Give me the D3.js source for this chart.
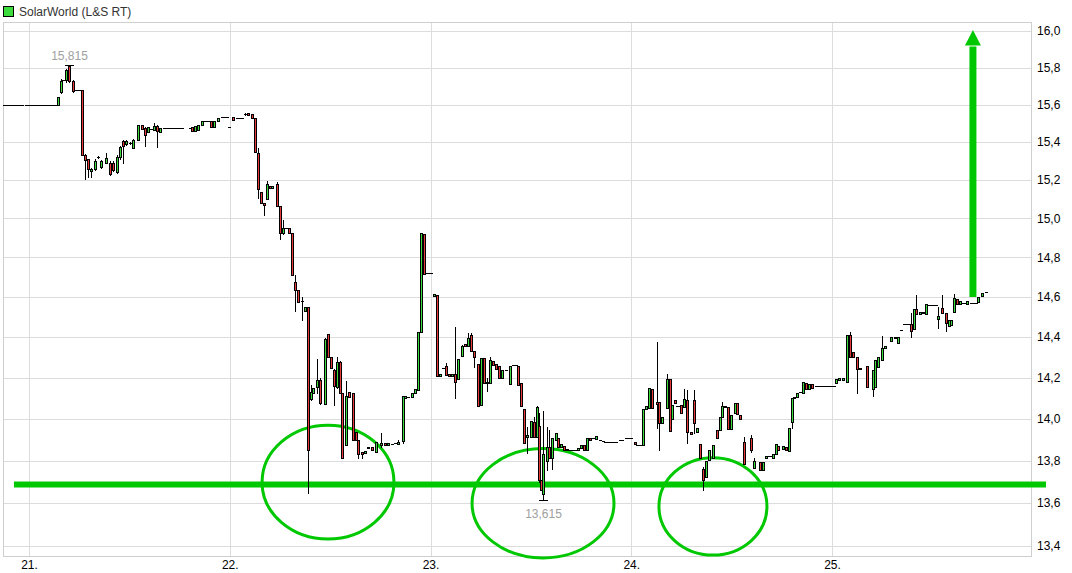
<!DOCTYPE html>
<html><head><meta charset="utf-8">
<script src="https://cdn.jsdelivr.net/npm/d3@7"></script>
<style>body{margin:0;background:#fff}svg{display:block}text{font-family:"Liberation Sans",Arial,sans-serif}</style>
</head><body><svg id="c" width="1072" height="573"></svg>
<script>
// ---------- data ----------
const seriesName = "SolarWorld (L&S RT)";
const priceTicks = [13.4,13.6,13.8,14.0,14.2,14.4,14.6,14.8,15.0,15.2,15.4,15.6,15.8,16.0];
const dayTicks = [21,22,23,24,25];
const dayLabels = ["21.","22.","23.","24.","25."];
// [time (day), open, high, low, close]
const candles = [
[21.144,15.60,15.64,15.60,15.64],[21.159,15.669,15.738,15.66,15.729],[21.184,15.73,15.79,15.72,15.786],
[21.199,15.81,15.815,15.72,15.725],[21.219,15.725,15.73,15.67,15.675],[21.264,15.68,15.68,15.33,15.332],
[21.279,15.33,15.335,15.205,15.305],[21.294,15.31,15.31,15.215,15.255],[21.309,15.245,15.265,15.215,15.26],
[21.329,15.26,15.31,15.25,15.30],[21.344,15.32,15.325,15.315,15.32],[21.359,15.27,15.305,15.265,15.30],
[21.384,15.29,15.34,15.29,15.315],[21.403,15.29,15.30,15.225,15.23],[21.418,15.29,15.30,15.245,15.25],
[21.438,15.24,15.33,15.235,15.32],[21.453,15.32,15.38,15.31,15.375],[21.468,15.405,15.41,15.29,15.38],
[21.483,15.39,15.41,15.385,15.405],[21.503,15.395,15.40,15.39,15.395],[21.518,15.37,15.415,15.37,15.41],
[21.543,15.41,15.49,15.41,15.49],[21.563,15.49,15.49,15.47,15.47],[21.578,15.475,15.48,15.38,15.437],
[21.593,15.455,15.48,15.455,15.48],[21.608,15.47,15.47,15.47,15.47],[21.623,15.465,15.50,15.465,15.485],
[21.638,15.485,15.49,15.375,15.46],[21.653,15.455,15.475,15.455,15.475],[21.802,15.475,15.475,15.475,15.475],
[21.812,15.48,15.48,15.46,15.46],[21.827,15.46,15.485,15.46,15.485],[21.842,15.465,15.49,15.465,15.49],
[21.862,15.49,15.51,15.49,15.51],[21.877,15.51,15.51,15.51,15.51],[21.892,15.51,15.51,15.51,15.51],
[21.907,15.51,15.51,15.48,15.48],[21.922,15.48,15.51,15.48,15.51],[21.941,15.51,15.53,15.51,15.53],
[22.016,15.535,15.535,15.515,15.515],[22.076,15.55,15.555,15.545,15.55],[22.091,15.556,15.556,15.545,15.545],
[22.111,15.55,15.55,15.53,15.53],[22.126,15.527,15.527,15.347,15.347],[22.141,15.34,15.368,15.106,15.153],
[22.156,15.137,15.137,15.081,15.081],[22.171,15.081,15.081,15.018,15.07],[22.186,15.101,15.195,15.10,15.18],
[22.200,15.169,15.169,15.158,15.158],[22.210,15.16,15.17,15.16,15.17],[22.235,15.18,15.19,15.065,15.065],
[22.250,15.065,15.065,14.895,14.926],[22.265,14.926,14.99,14.92,14.95],[22.280,14.95,14.95,14.95,14.95],
[22.295,14.95,14.95,14.925,14.925],[22.310,14.925,14.925,14.711,14.711],[22.325,14.676,14.711,14.53,14.635],
[22.340,14.635,14.635,14.575,14.575],[22.360,14.58,14.60,14.485,14.58],[22.375,14.53,14.55,14.53,14.55],
[22.390,14.55,14.55,13.645,13.848],[22.405,14.095,14.163,14.09,14.129],[22.415,14.125,14.15,14.125,14.15],
[22.435,14.155,14.29,14.125,14.19],[22.450,14.19,14.20,14.07,14.076],[22.474,14.07,14.395,14.07,14.39],
[22.489,14.415,14.415,14.30,14.30],[22.504,14.30,14.30,14.247,14.247],[22.519,14.236,14.24,14.066,14.16],
[22.534,14.153,14.30,14.15,14.276],[22.549,14.276,14.28,14.124,14.124],[22.559,14.124,14.124,13.81,13.814],
[22.579,13.872,14.183,13.872,14.11],[22.594,14.13,14.13,14.105,14.105],[22.614,14.124,14.124,13.896,13.896],
[22.629,13.935,13.935,13.896,13.896],[22.639,13.896,13.896,13.814,13.829],[22.659,13.84,13.84,13.81,13.83],
[22.674,13.835,13.845,13.835,13.845],[22.689,13.86,13.865,13.86,13.865],[22.709,13.863,13.863,13.85,13.85],
[22.729,13.84,13.89,13.84,13.89],[22.753,13.872,13.93,13.863,13.885],[22.773,13.885,13.885,13.875,13.875],
[22.788,13.875,13.885,13.875,13.885],[22.808,13.88,13.88,13.88,13.88],[22.823,13.885,13.885,13.885,13.885],
[22.838,13.88,13.90,13.88,13.89],[22.863,13.892,14.11,13.885,14.11],[22.873,14.10,14.108,14.10,14.108],
[22.888,14.105,14.105,14.105,14.105],[22.908,14.105,14.124,14.105,14.124],[22.923,14.124,14.144,14.124,14.144],
[22.938,14.14,14.425,14.14,14.425],[22.953,14.425,14.926,14.425,14.926],[22.968,14.92,14.92,14.715,14.715],
[23.017,14.605,14.615,14.605,14.615],[23.032,14.61,14.61,14.207,14.207],[23.047,14.207,14.22,14.207,14.22],
[23.062,14.245,14.245,14.245,14.245],[23.077,14.255,14.27,14.212,14.212],[23.092,14.217,14.217,14.207,14.207],
[23.107,14.207,14.217,14.207,14.217],[23.122,14.217,14.45,14.10,14.178],[23.137,14.193,14.29,14.193,14.29],
[23.157,14.305,14.36,14.305,14.355],[23.172,14.365,14.365,14.355,14.355],[23.187,14.355,14.42,14.355,14.395],
[23.202,14.41,14.42,14.33,14.33],[23.217,14.33,14.33,14.25,14.30],[23.237,14.265,14.265,14.06,14.06],
[23.252,14.065,14.295,14.065,14.295],[23.267,14.295,14.295,14.173,14.173],[23.281,14.173,14.20,14.135,14.178],
[23.296,14.173,14.30,14.173,14.286],[23.311,14.28,14.28,14.262,14.262],[23.326,14.265,14.265,14.24,14.24],
[23.341,14.255,14.255,14.20,14.20],[23.356,14.20,14.237,14.20,14.237],[23.376,14.237,14.237,14.237,14.237],
[23.396,14.168,14.257,14.168,14.257],[23.411,14.262,14.262,14.262,14.262],[23.426,14.262,14.262,14.262,14.262],
[23.436,14.257,14.257,14.163,14.163],[23.451,14.173,14.173,14.06,14.06],[23.466,14.046,14.046,13.882,13.882],
[23.481,13.913,13.96,13.835,13.92],[23.501,13.913,13.99,13.913,13.99],[23.516,13.983,14.007,13.913,13.913],
[23.531,13.913,14.06,13.913,14.056],[23.540,13.963,14.03,13.70,13.706],[23.550,13.706,13.71,13.659,13.659],
[23.560,13.64,14.04,13.615,13.829],[23.580,13.80,13.96,13.755,13.863],[23.590,13.863,13.945,13.814,13.814],
[23.605,13.814,13.906,13.76,13.906],[23.625,13.896,13.93,13.896,13.93],[23.635,13.91,13.91,13.863,13.863],
[23.650,13.863,13.877,13.863,13.877],[23.665,13.87,13.87,13.85,13.85],[23.680,13.85,13.855,13.85,13.855],
[23.735,13.848,13.86,13.848,13.86],[23.750,13.86,13.872,13.86,13.872],[23.765,13.872,13.872,13.85,13.85],
[23.780,13.85,13.91,13.85,13.91],[23.795,13.91,13.91,13.896,13.896],[23.809,13.91,13.91,13.91,13.91],
[23.824,13.905,13.915,13.905,13.915],[23.844,13.90,13.90,13.90,13.90],[23.859,13.895,13.895,13.895,13.895],
[24.019,13.89,13.89,13.877,13.877],[24.059,13.875,14.046,13.875,14.046],[24.073,14.046,14.06,14.046,14.06],
[24.088,14.05,14.15,14.05,14.15],[24.103,14.145,14.145,14.05,14.05],[24.128,14.08,14.375,13.954,14.07],
[24.138,14.08,14.08,13.848,13.978],[24.153,13.978,14.007,13.978,14.007],[24.178,14.05,14.217,14.05,14.193],
[24.193,14.193,14.193,13.942,13.942],[24.203,13.998,14.065,13.998,14.065],[24.218,14.09,14.09,14.075,14.075],
[24.248,14.065,14.065,14.03,14.03],[24.263,14.055,14.145,14.055,14.095],[24.278,14.09,14.14,13.883,13.935],
[24.298,13.935,13.935,13.925,13.925],[24.313,14.09,14.14,13.93,13.978],[24.328,13.935,13.954,13.935,13.954],
[24.342,13.877,13.877,13.814,13.814],[24.357,13.762,13.77,13.66,13.706],[24.372,13.72,13.80,13.72,13.80],
[24.387,13.805,13.848,13.805,13.848],[24.407,13.814,13.872,13.814,13.872],[24.427,13.944,13.944,13.91,13.91],
[24.442,13.944,14.007,13.944,14.007],[24.452,14.007,14.08,14.007,14.06],[24.467,14.06,14.06,14.055,14.055],
[24.482,14.055,14.055,13.95,13.95],[24.497,13.95,14.017,13.95,14.017],[24.517,14.03,14.075,14.03,14.075],
[24.527,14.075,14.075,14.025,14.025],[24.542,14.02,14.02,14.00,14.00],[24.562,13.887,13.911,13.786,13.786],
[24.597,13.906,13.92,13.84,13.848],[24.611,13.767,13.814,13.767,13.80],[24.641,13.795,13.795,13.753,13.753],
[24.656,13.753,13.795,13.753,13.795],[24.671,13.81,13.82,13.81,13.82],[24.706,13.81,13.83,13.81,13.83],
[24.721,13.833,13.877,13.833,13.877],[24.731,13.87,13.87,13.85,13.85],[24.756,13.855,13.868,13.855,13.868],
[24.771,13.865,13.865,13.85,13.85],[24.786,13.844,13.958,13.844,13.958],[24.801,13.983,14.10,13.955,14.10],
[24.811,14.10,14.105,14.10,14.105],[24.826,14.105,14.124,14.105,14.124],[24.841,14.13,14.13,14.13,14.13],
[24.856,14.124,14.178,14.124,14.178],[24.871,14.173,14.173,14.144,14.144],[24.885,14.144,14.168,14.144,14.168],
[24.900,14.168,14.168,14.15,14.15],[25.020,14.173,14.193,14.173,14.193],[25.035,14.19,14.20,14.19,14.20],
[25.055,14.19,14.20,14.19,14.20],[25.075,14.178,14.41,14.178,14.41],[25.090,14.41,14.425,14.30,14.30],
[25.105,14.325,14.325,14.30,14.30],[25.125,14.30,14.30,14.124,14.24],[25.140,14.24,14.247,14.24,14.247],
[25.174,14.255,14.255,14.153,14.153],[25.204,14.144,14.237,14.11,14.237],[25.214,14.153,14.286,14.153,14.286],
[25.229,14.25,14.30,14.25,14.30],[25.249,14.286,14.405,14.286,14.345],[25.264,14.345,14.355,14.345,14.355],
[25.294,14.38,14.40,14.38,14.40],[25.314,14.40,14.40,14.395,14.395],[25.329,14.37,14.40,14.37,14.40],
[25.344,14.435,14.435,14.435,14.435],[25.394,14.465,14.52,14.40,14.43],[25.408,14.44,14.54,14.44,14.54],
[25.418,14.54,14.61,14.515,14.515],[25.438,14.515,14.525,14.515,14.525],[25.453,14.52,14.525,14.52,14.525],
[25.468,14.515,14.565,14.515,14.565],[25.528,14.49,14.55,14.445,14.505],[25.548,14.545,14.61,14.52,14.52],
[25.568,14.52,14.52,14.43,14.47],[25.583,14.455,14.485,14.455,14.485],[25.593,14.46,14.485,14.46,14.485],
[25.608,14.525,14.615,14.525,14.595],[25.623,14.59,14.59,14.565,14.565],[25.638,14.565,14.58,14.565,14.58],
[25.672,14.565,14.58,14.565,14.58],[25.727,14.575,14.60,14.575,14.60],[25.747,14.605,14.62,14.605,14.62],
[25.767,14.625,14.625,14.625,14.625]
];
// flat stretches (no price change): [from, to, price]
const flats = [
[20.870,20.970,15.60],[20.980,21.100,15.60],[21.105,21.139,15.60],[21.164,21.179,15.73],[21.229,21.259,15.678],
[21.668,21.767,15.475],[21.956,21.991,15.533],[21.991,22.001,15.48],[22.031,22.066,15.527],[22.978,23.007,14.72],
[23.690,23.730,13.85],[23.864,23.929,13.89],[23.939,23.959,13.896],[23.969,24.004,13.906],[24.024,24.054,13.875],
[24.223,24.243,14.06],[24.681,24.701,13.82],[24.915,25.015,14.161],[25.354,25.389,14.465],[25.478,25.523,14.56],
[25.648,25.672,14.57],[25.687,25.722,14.57]
];
const extremes = [
  {t:21.199, p:15.815, label:"15,815", side:"top"},
  {t:23.560, p:13.615, label:"13,615", side:"bottom"}
];
const supportLine = {t0:20.925, t1:26.066, p:13.687};
// ellipses: [t left, t right, price top, price bottom]
const ellipses = [[22.161,22.818,13.969,13.432],[23.207,23.914,13.857,13.345],[24.138,24.676,13.814,13.358]];
const arrow = {t:25.702, from:14.60, headBase:15.92, tip:16.005};

// ---------- layout ----------
const W=1072,H=573;
const L=3,R=1031,T=22,B=556;
const svg=d3.select("#c");
const x=d3.scaleLinear().domain([21,25]).range([29,832]);
const y=d3.scaleLog().domain([13.4,16]).range([546,31]);
const GREEN="#3cdc3c", RED="#e63a3a", ANN="#00c800";

// grid
const g=svg.append("g");
g.selectAll("line.h").data(priceTicks).join("line")
 .attr("x1",L).attr("x2",R).attr("y1",d=>Math.round(y(d))+0.5).attr("y2",d=>Math.round(y(d))+0.5)
 .attr("stroke","#dcdcdc");
g.selectAll("line.v").data(dayTicks).join("line")
 .attr("x1",d=>Math.round(x(d))+0.5).attr("x2",d=>Math.round(x(d))+0.5).attr("y1",T).attr("y2",B)
 .attr("stroke","#dcdcdc");
svg.append("rect").attr("x",L+0.5).attr("y",T+0.5).attr("width",R-L).attr("height",B-T)
 .attr("fill","none").attr("stroke","#cfcfcf");

// axes
const ya=svg.append("g").attr("transform",`translate(${R},0)`)
 .call(d3.axisRight(y).tickValues(priceTicks).tickSize(0).tickPadding(6)
   .tickFormat(d=>d.toFixed(1).replace(".",",")));
ya.select(".domain").remove();
ya.selectAll("text").attr("font-size",12).attr("fill","#000").attr("font-family","Liberation Sans, Arial, sans-serif");
const xa=svg.append("g").attr("transform",`translate(0,${B})`)
 .call(d3.axisBottom(x).tickValues(dayTicks).tickSize(0).tickPadding(4).tickFormat((d,i)=>dayLabels[i]));
xa.select(".domain").remove();
xa.selectAll("text").attr("font-size",12).attr("fill","#000").attr("font-family","Liberation Sans, Arial, sans-serif");

// legend
svg.append("rect").attr("x",3.5).attr("y",6.5).attr("width",10).attr("height",10).attr("fill",GREEN).attr("stroke","#000");
svg.append("text").attr("x",19).attr("y",16).attr("font-size",12).attr("fill","#333").text(seriesName);

// annotations (under candles)
const an=svg.append("g");
an.append("line").attr("x1",x(supportLine.t0)).attr("x2",x(supportLine.t1))
 .attr("y1",y(supportLine.p)).attr("y2",y(supportLine.p)).attr("stroke",ANN).attr("stroke-width",6);
an.selectAll("ellipse").data(ellipses).join("ellipse")
 .attr("cx",d=>(x(d[0])+x(d[1]))/2).attr("cy",d=>(y(d[2])+y(d[3]))/2)
 .attr("rx",d=>(x(d[1])-x(d[0]))/2).attr("ry",d=>(y(d[3])-y(d[2]))/2)
 .attr("fill","none").attr("stroke",ANN).attr("stroke-width",3);
const ax=x(arrow.t);
an.append("line").attr("x1",ax).attr("x2",ax).attr("y1",y(arrow.from)).attr("y2",y(arrow.headBase)+1)
 .attr("stroke",ANN).attr("stroke-width",7);
an.append("path").attr("d",`M${ax-8},${y(arrow.headBase)}L${ax+8},${y(arrow.headBase)}L${ax},${y(arrow.tip)}Z`).attr("fill",ANN);

// flats
const cg=svg.append("g");
cg.selectAll("line.flat").data(flats).join("line")
 .attr("x1",d=>Math.round(x(d[0]))).attr("x2",d=>Math.round(x(d[1]))+1)
 .attr("y1",d=>Math.round(y(d[2]))+0.5).attr("y2",d=>Math.round(y(d[2]))+0.5)
 .attr("stroke","#000");

// candles
candles.forEach(d=>{
  const [t,o,h,l,c]=d;
  const cx=Math.round(x(t));
  const hi=Math.max(h,o,c), lo=Math.min(l,o,c);
  const yh=Math.round(y(hi)), yl=Math.round(y(lo));
  const yo=Math.round(y(o)), yc=Math.round(y(c));
  if(yl>yh) cg.append("line").attr("x1",cx+0.5).attr("x2",cx+0.5).attr("y1",yh).attr("y2",yl+1).attr("stroke","#000");
  if(Math.abs(yo-yc)<1){
    cg.append("line").attr("x1",cx-1).attr("x2",cx+2).attr("y1",yo+0.5).attr("y2",yo+0.5).attr("stroke","#000");
  } else {
    const top=Math.min(yo,yc), bot=Math.max(yo,yc);
    cg.append("rect").attr("x",cx-0.5).attr("y",top+0.5).attr("width",2).attr("height",bot-top)
      .attr("fill",c>=o?GREEN:RED).attr("stroke","#000").attr("stroke-width",1);
  }
});

// extremes
extremes.forEach(e=>{
  const cx=Math.round(x(e.t)), yy=Math.round(y(e.p))+0.5;
  cg.append("line").attr("x1",cx-4).attr("x2",cx+5).attr("y1",yy).attr("y2",yy).attr("stroke","#000");
  svg.append("text").attr("x",cx+0.5).attr("y",e.side==="top"?yy-6:yy+17).attr("text-anchor","middle")
    .attr("font-size",12).attr("fill","#a0a0a0").text(e.label);
});
</script></body></html>
